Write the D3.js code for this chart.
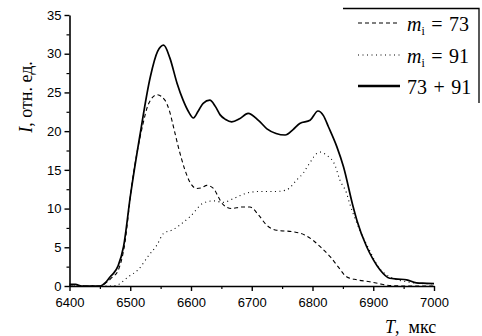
<!DOCTYPE html>
<html><head><meta charset="utf-8">
<script src="https://cdn.jsdelivr.net/npm/d3@7"></script>
<style>
html,body{margin:0;padding:0;background:#fff;}
svg{display:block;}
</style></head>
<body>
<svg id="c" width="482" height="336"></svg>
<script>
// ---- data ----
const xTicks = [6400, 6500, 6600, 6700, 6800, 6900, 7000];
const yTicks = [0, 5, 10, 15, 20, 25, 30, 35];
const seriesNames = ["m73", "m91", "sum"];

const tSum = [6400,6410,6420,6450,6460,6467,6472,6480,6489,6500,6516,6533,6545,6555,6565,6577,6587,6596,6604,6612,6620,6631,6640,6648,6657,6667,6680,6694,6711,6725,6740,6755,6768,6779,6796,6809,6818,6826,6840,6851,6867,6873,6889,6900,6911,6927,6940,6955,6971,6988,7000];
const vSum = [0.2,0.2,0,0,0.5,1.2,1.6,2.6,5.1,11.5,19.5,27.0,30.3,31.1,29.5,26.2,24.0,22.5,21.7,22.6,23.6,24.0,23.2,22.1,21.5,21.2,21.6,22.3,21.4,20.3,19.7,19.5,20.2,21.0,21.4,22.6,22.0,20.6,18.0,15.4,10.2,8.5,5.1,3.4,2.1,1.0,0.9,0.8,0.4,0.35,0.3];

const t73 = [6400,6450,6460,6470,6480,6490,6503,6520,6530,6544,6557,6565,6571,6579,6590,6599,6609,6618,6626,6637,6645,6653,6667,6683,6697,6711,6724,6741,6768,6787,6801,6815,6829,6842,6856,6873,6894,6910,6922,6950,7000];
const v73 = [0,0,0.4,1.1,2.0,5.0,13.3,20.6,23.5,24.7,24.0,22.5,20.6,18.0,15.0,13.3,12.6,12.7,13.0,12.6,11.5,10.5,10.0,10.2,10.2,9.2,7.9,7.2,7.0,6.6,5.9,4.9,3.8,2.5,1.2,0.8,0.55,0.3,0.1,0,0];

const t91 = [6400,6470,6478,6497,6513,6530,6544,6555,6571,6582,6599,6620,6637,6653,6670,6692,6711,6738,6757,6774,6785,6793,6812,6823,6837,6845,6856,6861,6878,6894,6908,6927,6955,6988,7000];
const v91 = [0,0,0.1,1.2,2.1,3.9,5.3,6.8,7.3,7.9,9.0,10.7,11.0,10.8,11.3,12.0,12.2,12.2,12.4,13.7,14.6,15.6,17.3,16.9,15.6,13.7,12.0,10.7,7.2,4.6,2.5,1.2,0.55,0.3,0.3];

const legendLabels = ["= 73", "= 91", "73 + 91"];

// ---- layout ----
const svg = d3.select("#c");
const X0 = 69.5, X1 = 434, Y0 = 286, Y1 = 15;
const x = d3.scaleLinear().domain([6400, 7000]).range([X0, X1]);
const y = d3.scaleLinear().domain([0, 35]).range([Y0, Y1]);

const tickFont = "'Liberation Sans', Arial, sans-serif";
const serif = "'Liberation Serif', 'Times New Roman', serif";

// minor ticks
const gxm = svg.append("g").attr("transform", `translate(0,${Y0})`)
  .call(d3.axisBottom(x).tickValues(d3.range(6450, 7000, 100)).tickSize(3).tickFormat(""));
const gym = svg.append("g").attr("transform", `translate(${X0},0)`)
  .call(d3.axisLeft(y).tickValues(d3.range(2.5, 35, 5)).tickSize(3).tickFormat(""));
[gxm, gym].forEach(g => { g.select(".domain").remove(); g.selectAll("line").attr("stroke", "#000").attr("stroke-width", 1.2); });

// major axes
const gx = svg.append("g").attr("transform", `translate(0,${Y0})`)
  .call(d3.axisBottom(x).tickValues(xTicks).tickSize(5).tickSizeOuter(0).tickPadding(7).tickFormat(d3.format("d")));
const gy = svg.append("g").attr("transform", `translate(${X0},0)`)
  .call(d3.axisLeft(y).tickValues(yTicks).tickSize(5).tickSizeOuter(0).tickPadding(3).tickFormat(d3.format("d")));
[gx, gy].forEach(g => {
  g.select(".domain").attr("stroke", "#000").attr("stroke-width", 1.6);
  g.selectAll("line").attr("stroke", "#000").attr("stroke-width", 1.4);
  g.selectAll("text").attr("fill", "#000").style("font-family", tickFont).style("font-size", "13px");
});

// ---- lines ----
const line = d3.line().x(d => x(d[0])).y(d => y(d[1])).curve(d3.curveMonotoneX);
const d73 = t73.map((t, i) => [t, v73[i]]);
const d91 = t91.map((t, i) => [t, v91[i]]);
const dSum = tSum.map((t, i) => [t, vSum[i]]);

const styles = {
  m73: {dash: "4,3", w: 1.1},
  m91: {dash: "1,3.5", w: 1.1},
  sum: {dash: null, w: 1.7}
};
const dataBy = {m73: d73, m91: d91, sum: dSum};

seriesNames.forEach(n => {
  svg.append("path").datum(dataBy[n]).attr("d", line)
    .attr("fill", "none").attr("stroke", "#000")
    .attr("stroke-width", styles[n].w)
    .attr("stroke-dasharray", styles[n].dash);
});

// ---- legend ----
const lg = svg.append("g");
lg.append("path").attr("d", "M343,8.5H479V103").attr("fill", "none").attr("stroke", "#000").attr("stroke-width", 1.3);
const rowY = [23, 55, 86];
seriesNames.forEach((n, i) => {
  lg.append("line").attr("x1", 358).attr("x2", 400).attr("y1", rowY[i]).attr("y2", rowY[i])
    .attr("stroke", "#000").attr("stroke-width", styles[n].w + (n === "sum" ? 0.6 : 0))
    .attr("stroke-dasharray", styles[n].dash);
  const tx = lg.append("text").attr("x", 407).attr("y", rowY[i] + 7.5)
    .style("font-family", serif).style("font-size", "20px").style("word-spacing", "1.5px").attr("fill", "#000");
  if (i < 2) {
    tx.append("tspan").style("font-style", "italic").text("m");
    tx.append("tspan").attr("dy", 4).style("font-size", "12px").text("i");
    tx.append("tspan").attr("dy", -4).text(" " + legendLabels[i]);
  } else {
    tx.text(legendLabels[i]);
  }
});

// ---- axis titles ----
const yl = svg.append("text").attr("transform", "translate(32,97) rotate(-90)")
  .attr("text-anchor", "middle").style("font-family", serif).style("font-size", "18px").attr("fill", "#000");
yl.append("tspan").style("font-style", "italic").text("I");
yl.append("tspan").text(", отн. ед.");

const xl = svg.append("text").attr("x", 385).attr("y", 333)
  .style("font-family", serif).style("font-size", "18px").attr("fill", "#000");
xl.append("tspan").style("font-style", "italic").text("T");
xl.append("tspan").text(",\u00a0 мкс");
</script>
</body></html>
